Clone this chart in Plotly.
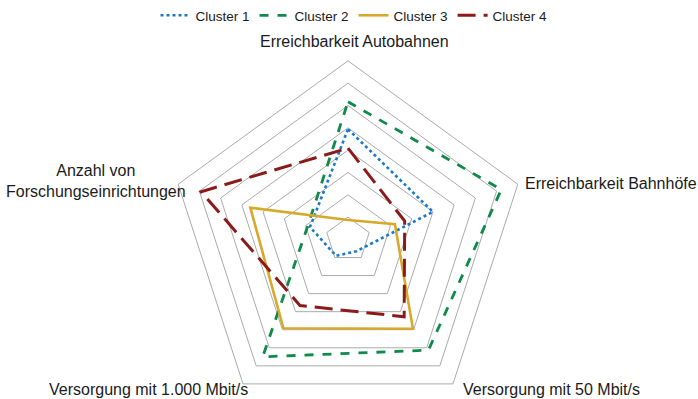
import plotly.graph_objects as go

categories = ["Erreichbarkeit Autobahnen", "Erreichbarkeit Bahnhöfe",
              "Versorgung mit 50 Mbit/s", "Versorgung mit 1.000 Mbit/s",
              "Anzahl von<br>Forschungseinrichtungen"]
cluster_1 = [4.94, 4.0, 0.65, 0.91, 1.79]
cluster_2 = [6.17, 7.22, 6.13, 6.5, 1.9]
cluster_3 = [0.87, 2.21, 4.95, 4.92, 4.6]
cluster_4 = [4.09, 2.67, 4.28, 3.66, 6.92]
series_names = ["Cluster 1", "Cluster 2", "Cluster 3", "Cluster 4"]
series_values = [cluster_1, cluster_2, cluster_3, cluster_4]

colors = ["#1A78CC", "#0F8A4A", "#D8A82A", "#8B1A1A"]
dashes = ["dot", "dash", "solid", "18px,8px"]
widths = [2.6, 2.8, 2.6, 3.0]

W, H = 698, 420
cx, cy, R = 348, 239, 179

fig = go.Figure()
for name, vals, col, dsh, lw in zip(series_names, series_values, colors, dashes, widths):
    fig.add_trace(go.Scatterpolar(
        r=vals + vals[:1], theta=categories + categories[:1],
        mode="lines", name=name,
        line=dict(color=col, dash=dsh, width=lw),
    ))

fig.update_layout(
    width=W, height=H,
    margin=dict(l=0, r=0, t=0, b=0),
    paper_bgcolor="white",
    font=dict(family="Liberation Sans, Arial, sans-serif", color="#1a1a1a"),
    polar=dict(
        domain=dict(x=[(cx - R) / W, (cx + R) / W], y=[(H - (cy + R)) / H, (H - (cy - R)) / H]),
        gridshape="linear",
        bgcolor="white",
        radialaxis=dict(range=[0, 8], dtick=1, showline=False, ticks="",
                        showticklabels=False, gridcolor="#ABABAB", gridwidth=1),
        angularaxis=dict(rotation=90, direction="clockwise", showgrid=False,
                         showline=True, linecolor="#ABABAB", linewidth=1,
                         ticks="", showticklabels=False),
    ),
    showlegend=True,
    legend=dict(orientation="h", x=354 / W, xanchor="center", y=(H + 1) / H, yanchor="top",
                font=dict(size=13.5, color="#1a1a1a"), itemwidth=30,
                bgcolor="rgba(0,0,0,0)"),
)

label_pos = [
    (354, 41, "center"),
    (523, 183, "left"),
    (461, 389, "left"),
    (250, 389, "right"),
    (96, 180.5, "center"),
]
for text, (x, y, anchor) in zip(categories, label_pos):
    fig.add_annotation(text=text, xref="paper", yref="paper", x=x / W, y=(H - y) / H,
                       xanchor=anchor, yanchor="middle", showarrow=False,
                       font=dict(size=16, color="#1a1a1a"), align="center")

fig.write_html("out.html", post_script="document.body.style.overflow='hidden';document.documentElement.style.overflow='hidden';")
